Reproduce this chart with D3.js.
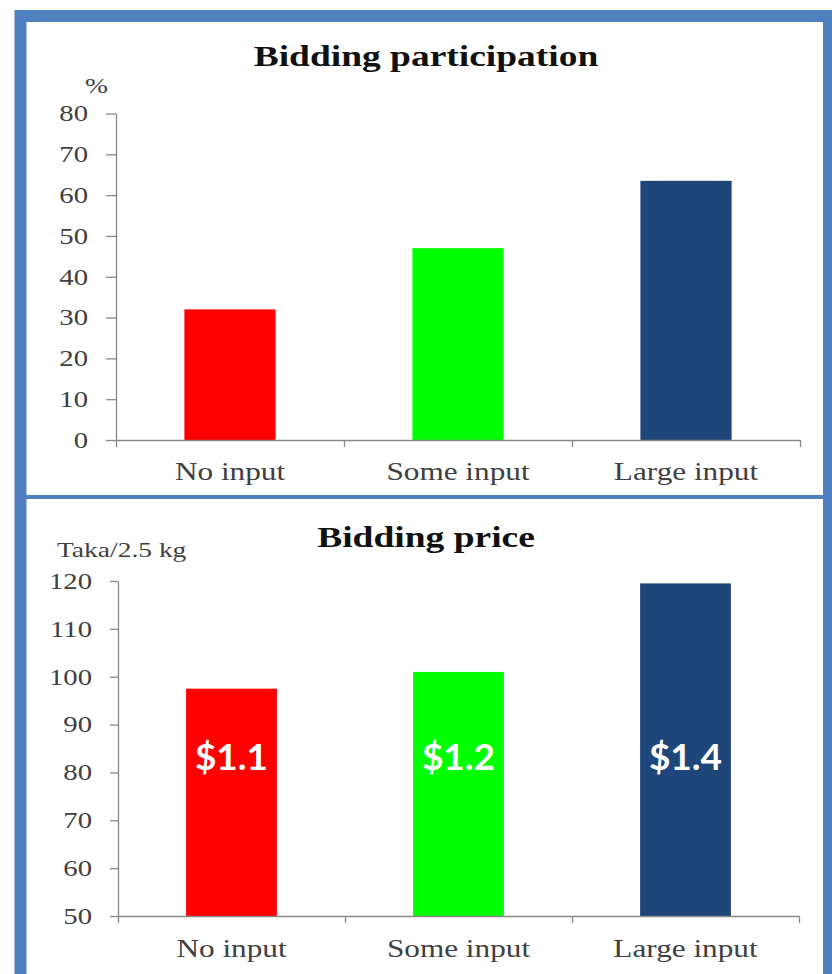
<!DOCTYPE html>
<html>
<head>
<meta charset="utf-8">
<script src="https://cdn.jsdelivr.net/npm/d3@7"></script>
<style>
  body { margin: 0; background: #fff; }
  svg { display: block; }
  text { font-family: 'Liberation Serif', 'Times New Roman', serif; }
</style>
</head>
<body>
<script>
const categories = ['No input', 'Some input', 'Large input'];
const participation = [32, 47, 63.5];
const priceTaka = [97.5, 101, 119.5];
const priceUsd = ['$1.1', '$1.2', '$1.4'];
const pctTicks = [0, 10, 20, 30, 40, 50, 60, 70, 80];
const takaTicks = [50, 60, 70, 80, 90, 100, 110, 120];
const barColors = ['#ff0000', '#00ff00', '#1f467a'];

const width = 832;
const height = 974;
const SX = 1.25; // source picture is stretched sideways, text too
const frameBlue = '#4f7fbf';
const axisGrey = '#888888';
const labelGrey = '#404040';

const svg = d3.select('body')
  .append('svg')
  .attr('width', width)
  .attr('height', height);

// outer frame + divider between the two charts
svg.append('rect')
  .attr('x', 20.5).attr('y', 16)
  .attr('width', 808.5).attr('height', 1000)
  .attr('fill', '#fff')
  .attr('stroke', frameBlue)
  .attr('stroke-width', 12);

svg.append('line')
  .attr('x1', 26).attr('x2', 823)
  .attr('y1', 497).attr('y2', 497)
  .attr('stroke', frameBlue)
  .attr('stroke-width', 4);

// move x/y into a transform so the glyphs can be widened like the source
function stretch(sel) {
  sel.each(function() {
    const t = d3.select(this);
    const x = +t.attr('x') || 0;
    const y = +t.attr('y') || 0;
    t.attr('x', 0).attr('y', 0)
     .attr('transform', `translate(${x},${y}) scale(${SX},1)`);
  });
}

function barChart(o) {
  const x = d3.scaleBand()
    .domain(categories)
    .range(o.xr)
    .paddingInner(0.6)
    .paddingOuter(0.3);
  const y = d3.scaleLinear().domain(o.yd).range(o.yr);
  const g = svg.append('g');

  g.selectAll('rect.bar')
    .data(o.values)
    .join('rect')
    .attr('class', 'bar')
    .attr('x', (d, i) => x(categories[i]))
    .attr('width', x.bandwidth())
    .attr('y', d => y(d))
    .attr('height', d => y(o.yd[0]) - y(d))
    .attr('fill', (d, i) => barColors[i]);

  // y axis
  const ya = g.append('g')
    .attr('transform', `translate(${o.xr[0]},0)`)
    .call(d3.axisLeft(y).tickValues(o.ticks).tickSize(o.tick).tickSizeOuter(0).tickPadding(18))
    .attr('font-size', 23);
  ya.selectAll('path, line').attr('stroke', axisGrey).attr('stroke-width', 1.3);
  ya.selectAll('text').attr('fill', labelGrey).call(stretch);

  // x axis: ticks sit on the category boundaries
  const xb = d3.scaleLinear().domain([0, categories.length]).range(o.xr);
  const xa = g.append('g')
    .attr('transform', `translate(0,${o.yr[0]})`)
    .call(d3.axisBottom(xb).tickValues(d3.range(categories.length + 1))
      .tickSize(7).tickSizeOuter(0).tickFormat(''));
  xa.selectAll('path, line').attr('stroke', axisGrey).attr('stroke-width', 1.3);

  // category names under the bands
  const xl = g.append('g')
    .attr('transform', `translate(0,${o.yr[0]})`)
    .call(d3.axisBottom(x).tickSize(0))
    .attr('font-size', 25);
  xl.select('.domain').remove();
  xl.selectAll('text')
    .attr('fill', labelGrey)
    .attr('dy', null)
    .attr('y', o.labelDy)
    .call(stretch);

  g.append('text')
    .attr('x', o.titleX).attr('y', o.titleY)
    .attr('text-anchor', 'middle')
    .attr('font-size', 30)
    .attr('font-weight', 'bold')
    .attr('fill', '#111')
    .text(o.title)
    .call(stretch);

  g.append('text')
    .attr('x', o.unitX).attr('y', o.unitY)
    .attr('font-size', o.unitSize)
    .attr('fill', labelGrey)
    .text(o.unit)
    .call(stretch);

  return { g, x, y };
}

barChart({
  values: participation, ticks: pctTicks,
  xr: [116, 800], yr: [440, 113.5], yd: [0, 80], tick: 10, labelDy: 40,
  title: 'Bidding participation', titleX: 426, titleY: 66,
  unit: '%', unitX: 85, unitY: 93, unitSize: 22
});

const price = barChart({
  values: priceTaka, ticks: takaTicks,
  xr: [118, 799], yr: [916, 581], yd: [50, 120], tick: 8, labelDy: 41,
  title: 'Bidding price', titleX: 426, titleY: 547,
  unit: 'Taka/2.5 kg', unitX: 57, unitY: 557, unitSize: 22
});

// dollar equivalents written inside the price bars
price.g.selectAll('text.usd')
  .data(priceUsd)
  .join('text')
  .attr('class', 'usd')
  .attr('x', (d, i) => price.x(categories[i]) + price.x.bandwidth() / 2)
  .attr('y', price.y(80.5))
  .attr('text-anchor', 'middle')
  .attr('font-size', 37)
  .attr('font-weight', 'bold')
  .attr('fill', '#fff')
  .style('font-family', 'Lato, "Open Sans", sans-serif')
  .text(d => d);
</script>
</body>
</html>
